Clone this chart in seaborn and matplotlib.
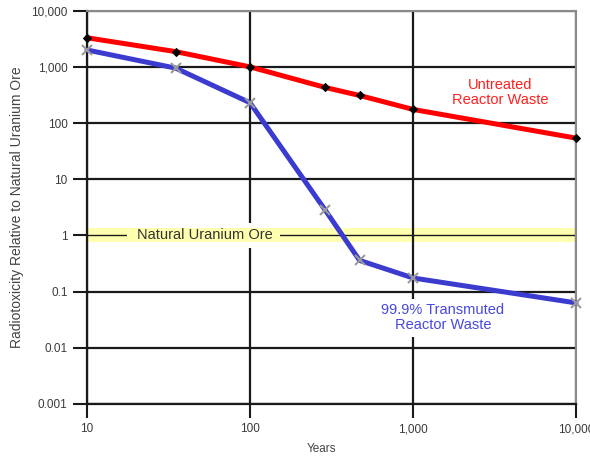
import matplotlib
matplotlib.use("Agg")
import matplotlib.pyplot as plt
import seaborn as sns
import pandas as pd

# ---- data ----
years_untreated = [10, 35, 100, 290, 470, 1000, 10000]
tox_untreated = [3300, 1870, 1000, 430, 310, 175, 54]

years_transmuted = [10, 35, 100, 290, 470, 1000, 10000]
tox_transmuted = [2000, 950, 230, 2.8, 0.36, 0.175, 0.063]

ore_level = 1
ore_band = [0.77, 1.36]

x_ticks = [10, 100, 1000, 10000]
x_tick_labels = ["10", "100", "1,000", "10,000"]
y_ticks = [0.001, 0.01, 0.1, 1, 10, 100, 1000, 10000]
y_tick_labels = ["0.001", "0.01", "0.1", "1", "10", "100", "1,000", "10,000"]

sns.set_style("white")
plt.rcParams["font.family"] = ["Liberation Sans", "DejaVu Sans"]

fig = plt.figure(figsize=(5.9, 4.57), dpi=100)
ax = fig.add_axes([87 / 590, 1 - 404 / 457, 489 / 590, 393.3 / 457])
ax.set_xscale("log")
ax.set_yscale("log")
ax.set_xlim(10, 10000)
ax.set_ylim(0.001, 10000)

ax.set_axisbelow(True)
ax.grid(True, which="major", color="#1a1a1a", lw=1.6, zorder=0.5)
ax.minorticks_off()

# yellow band for natural uranium ore
ax.axhspan(ore_band[0], ore_band[1], color="#FFFFB0", lw=0, zorder=0.2)
# white gap around label, then band again over it
ax.text(0.242, ore_level, "Natural Uranium Ore", transform=ax.get_yaxis_transform(),
        ha="center", va="center", fontsize=10.5, color="white", zorder=0.6,
        bbox=dict(facecolor="white", edgecolor="none", pad=4))
ax.axhspan(ore_band[0], ore_band[1], xmin=0.082, xmax=0.395, color="#FFFFB0", lw=0, zorder=0.7)
ax.text(0.242, ore_level, "Natural Uranium Ore", transform=ax.get_yaxis_transform(),
        ha="center", va="center", fontsize=10.5, color="#333333", zorder=3)

df_u = pd.DataFrame({"Years": years_untreated, "Tox": tox_untreated})
df_t = pd.DataFrame({"Years": years_transmuted, "Tox": tox_transmuted})

sns.lineplot(data=df_u, x="Years", y="Tox", ax=ax, color="#FF0000", lw=3.6,
             marker="D", markersize=4.5, markerfacecolor="black",
             markeredgecolor="black", clip_on=False, zorder=5)
sns.lineplot(data=df_t, x="Years", y="Tox", ax=ax, color="#3B3BD0", lw=3.6,
             marker="x", markersize=7, markeredgecolor="#9a9a9a",
             markeredgewidth=1.5, clip_on=False, zorder=5)

ax.set_xticks(x_ticks)
ax.set_xticklabels(x_tick_labels)
ax.set_yticks(y_ticks)
ax.set_yticklabels(y_tick_labels)
for gl, v in zip(ax.yaxis.get_gridlines(), y_ticks):
    if v == ore_level:
        gl.set_linewidth(1.0)

ax.tick_params(axis="both", which="major", direction="out", length=10, width=1.5,
               color="#1a1a1a", labelsize=8.5, labelcolor="#3a3a3a", pad=4,
               bottom=True, left=True)
ax.tick_params(axis="x", pad=4)

for s in ["left", "bottom"]:
    ax.spines[s].set_color("#1a1a1a")
    ax.spines[s].set_linewidth(1.6)
for s in ["top", "right"]:
    ax.spines[s].set_color("#8a8a8a")
    ax.spines[s].set_linewidth(1.5)

ax.text(0.845, 0.793, "Untreated\nReactor Waste", transform=ax.transAxes,
        ha="center", va="center", fontsize=10.5, color="#FF2020", linespacing=1.1,
        zorder=6)
ax.text(0.728, 0.219, "99.9% Transmuted\nReactor Waste", transform=ax.transAxes,
        ha="center", va="center", fontsize=10.5, color="#4848E0", linespacing=1.1,
        zorder=6, bbox=dict(facecolor="white", edgecolor="none", pad=3))

ax.set_xlabel("Years", fontsize=8.5, color="#444444")
ax.set_ylabel("Radiotoxicity Relative to Natural Uranium Ore", fontsize=10, color="#444444")
ax.xaxis.set_label_coords(0.48, -0.099)
ax.yaxis.set_label_coords(-0.129, 0.5)

fig.savefig("out.png", dpi=100)
